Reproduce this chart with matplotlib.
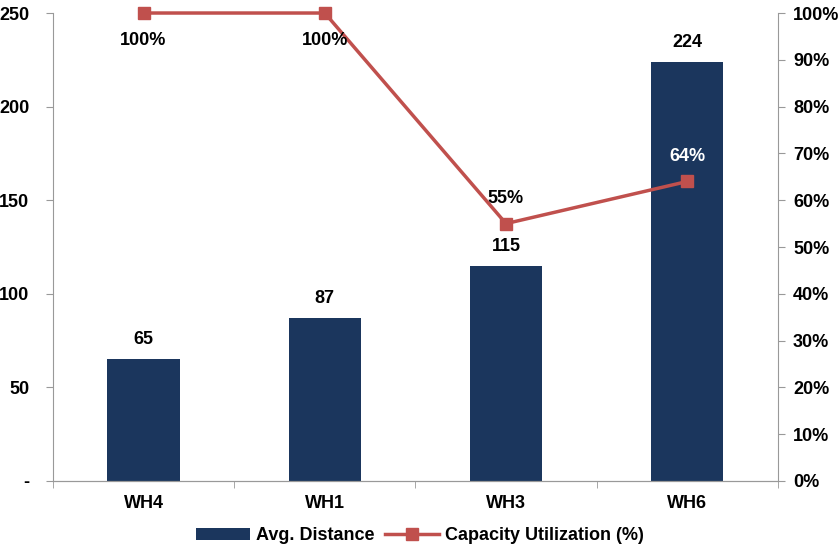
import matplotlib
matplotlib.use("Agg")
import matplotlib.pyplot as plt
import numpy as np

warehouses = ["WH4", "WH1", "WH3", "WH6"]
avg_distance = [65, 87, 115, 224]
capacity_util = [100, 100, 55, 64]

bar_color = "#1B365D"
line_color = "#C0504D"
spine_color = "#999999"

plt.rcParams["font.family"] = ["Liberation Sans", "DejaVu Sans"]
plt.rcParams["font.weight"] = "bold"
plt.rcParams["font.size"] = 13

fig = plt.figure(figsize=(8.4, 5.54), dpi=100)
ax = fig.add_axes([0.063, 0.1318, 0.863, 0.8447])
ax2 = ax.twinx()

x = np.arange(len(warehouses))
bars = ax.bar(x, avg_distance, width=0.4, color=bar_color, label="Avg. Distance", zorder=2)
ax.set_xlim(-0.5, len(warehouses) - 0.5)
ax.set_ylim(0, 250)
ax.set_yticks([0, 50, 100, 150, 200, 250])
ax.set_yticklabels(["-", "50", "100", "150", "200", "250"])
ax.set_xticks(x)
ax.set_xticklabels(warehouses)
ax.tick_params(axis="x", length=0, pad=10)
ax.set_xticks(np.arange(-0.5, len(warehouses)), minor=True)
ax.tick_params(axis="x", which="minor", length=5, color=spine_color)
ax.tick_params(axis="y", length=5, color=spine_color, pad=12)

for b, v in zip(bars, avg_distance):
    ax.annotate(str(v), (b.get_x() + b.get_width() / 2, v), xytext=(0, 8),
                textcoords="offset points", ha="center", va="bottom", fontweight="bold")

line, = ax2.plot(x, capacity_util, color=line_color, linewidth=2.5, marker="s",
                 markersize=9, label="Capacity Utilization (%)", zorder=3, clip_on=False)
ax2.set_ylim(0, 100)
ax2.set_yticks(np.arange(0, 101, 10))
ax2.set_yticklabels([f"{v}%" for v in range(0, 101, 10)])
ax2.tick_params(axis="y", length=5, color=spine_color, pad=6)

for i, v in enumerate(capacity_util):
    if v >= 100:
        off, va, col = (0, -14), "top", "black"
    else:
        off, va, col = (0, 12), "bottom", ("white" if avg_distance[i] > 2.5 * v + 10 else "black")
    ax2.annotate(f"{v}%", (x[i], v), xytext=off, textcoords="offset points",
                 ha="center", va=va, color=col, fontweight="bold")

for a in (ax, ax2):
    a.spines["top"].set_visible(False)
    for s in ("left", "right", "bottom"):
        a.spines[s].set_color(spine_color)
ax2.spines["left"].set_visible(False)
ax.spines["right"].set_visible(False)

fig.legend([bars, line], ["Avg. Distance", "Capacity Utilization (%)"], loc="lower center",
           bbox_to_anchor=(0.5, -0.012), ncol=2, frameon=False, handlelength=3.0,
           columnspacing=0.6, handletextpad=0.3)

fig.savefig("out.png", dpi=100)
